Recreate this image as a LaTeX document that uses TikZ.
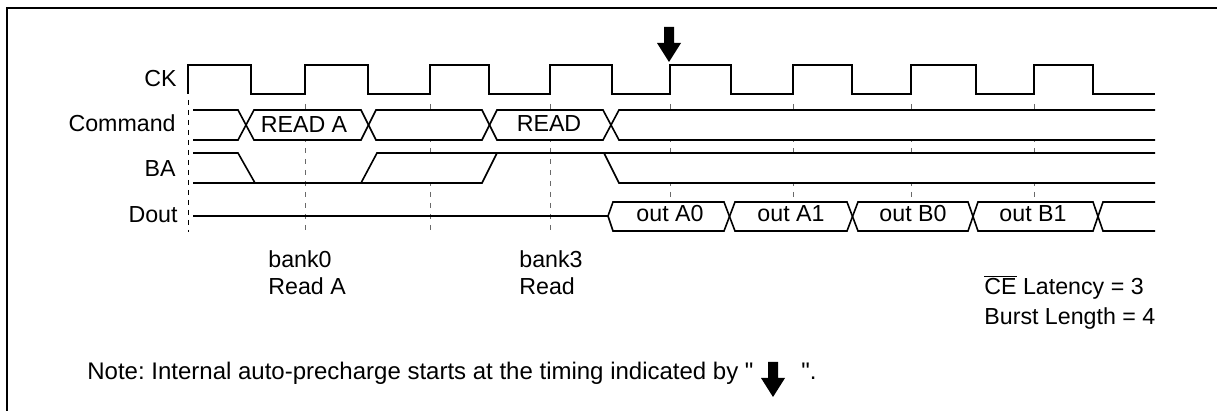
\documentclass[tikz,border=0pt]{standalone}
\usepackage{fontspec}
\setmainfont{Liberation Sans}[Ligatures=TeXOff]
\usetikzlibrary{calc}
\definecolor{dashgray}{RGB}{105,105,105}
\frenchspacing
\begin{document}
\begin{tikzpicture}[x=0.5pt,y=-0.5pt,
  sig/.style={line width=0.8pt, line join=miter},
  lbl/.style={font=\fontsize{11.6}{14}\selectfont, inner sep=0pt},
  notelbl/.style={font=\fontsize{12}{14}\selectfont, inner sep=0pt},
  gdash/.style={draw=dashgray, line width=0.5pt, dash pattern=on 2.5pt off 3pt},
  kdash/.style={draw=black, line width=0.5pt, dash pattern=on 2.5pt off 2.5pt},
  downarrow/.pic={\fill (-5,0)--(5,0)--(5,16)--(12,16)--(0,35)--(-12,16)--(-5,16)--cycle;}
]
\useasboundingbox (0,0) rectangle (1217,411);
% frame
\draw[line width=0.6pt] (7,411) -- (7,8) -- (1217,8);
% dashed guide lines
\draw[kdash] (188,100) -- (188,232);
\foreach \x in {305,430,550,670,793,911,1034} \draw[gdash] (\x,104) -- (\x,231);
% white bus interiors
\fill[white] (193,110) rectangle (1155,140);
\fill[white] (193,153) -- (238,153) -- (255,183) -- (193,183) -- cycle;
\fill[white] (361,183) -- (377,153) -- (497,153) -- (482,183) -- cycle;
\fill[white] (604,153) -- (619,183) -- (1155,183) -- (1155,153) -- cycle;
\fill[white] (608,216) -- (613,202) -- (1155,202) -- (1155,231) -- (613,231) -- cycle;
% CK
\draw[sig] (188,94) -- (188,65) -- (251,65) -- (251,94) -- (305,94) -- (305,65) -- (368,65) -- (368,94)
  -- (430,94) -- (430,65) -- (489,65) -- (489,94) -- (550,94) -- (550,65) -- (612,65) -- (612,94)
  -- (670,94) -- (670,65) -- (731,65) -- (731,94) -- (793,94) -- (793,65) -- (852,65) -- (852,94)
  -- (911,94) -- (911,65) -- (976,65) -- (976,94) -- (1034,94) -- (1034,65) -- (1093,65) -- (1093,94) -- (1155,94);
% Command
\draw[sig] (193,110) -- (238,110) -- (254,140) -- (361,140) -- (376,110) -- (482,110) -- (497,140) -- (603,140) -- (619,110) -- (1155,110);
\draw[sig] (193,140) -- (238,140) -- (254,110) -- (361,110) -- (376,140) -- (482,140) -- (497,110) -- (603,110) -- (619,140) -- (1155,140);
% BA
\draw[sig] (193,153) -- (238,153) -- (255,183);
\draw[sig] (193,183) -- (482,183) -- (497,153);
\draw[sig] (361,183) -- (377,153) -- (1155,153);
\draw[sig] (604,153) -- (619,183) -- (1155,183);
% Dout
\draw[sig] (193,216) -- (608,216) -- (613,202) -- (724,202) -- (735,231) -- (847,231) -- (858,202) -- (968,202) -- (978,231) -- (1093,231) -- (1103,202) -- (1155,202);
\draw[sig] (608,216) -- (613,231) -- (724,231) -- (735,202) -- (847,202) -- (858,231) -- (968,231) -- (978,202) -- (1093,202) -- (1103,231) -- (1155,231);
% signal names
\node[lbl, anchor=base east] (ck) at (177,87) {CK};
\node[lbl, anchor=base east] (cmd) at (176,132) {Command};
\node[lbl, anchor=base east] (ba) at (176,177) {BA};
\node[lbl, anchor=base east] (dout) at (178,223) {Dout};
% values
\node[lbl, anchor=base] (rda) at (304,133) {READ A};
\node[lbl, anchor=base] (rd) at (549,132) {READ};
\node[lbl, anchor=base] (oa0) at (670,222) {out A0};
\node[lbl, anchor=base] (oa1) at (791,222) {out A1};
\node[lbl, anchor=base] (ob0) at (913,222) {out B0};
\node[lbl, anchor=base] (ob1) at (1033,222) {out B1};
% annotations
\node[lbl, anchor=base west] (b0) at (268,268) {bank0};
\node[lbl, anchor=base west] (r0) at (268,295) {Read A};
\node[lbl, anchor=base west] (b3) at (519,268) {bank3};
\node[lbl, anchor=base west] (r3) at (519,295) {Read};
\node[lbl, anchor=base west] (ce) at (984,295) {$\overline{\mbox{CE}}$ Latency = 3};
\node[lbl, anchor=base west] (bl) at (984,325) {Burst Length = 4};
% arrows
\pic at (669,27) {downarrow};
\node[notelbl, anchor=base west] (note) at (87,380) {Note: Internal auto-precharge starts at the timing indicated by "};
\pic at ($(note.base east)+(19,-18)$) {downarrow};
\node[notelbl, anchor=base west] (note2) at ($(note.base east)+(47,0)$) {".};
\end{tikzpicture}
\end{document}
